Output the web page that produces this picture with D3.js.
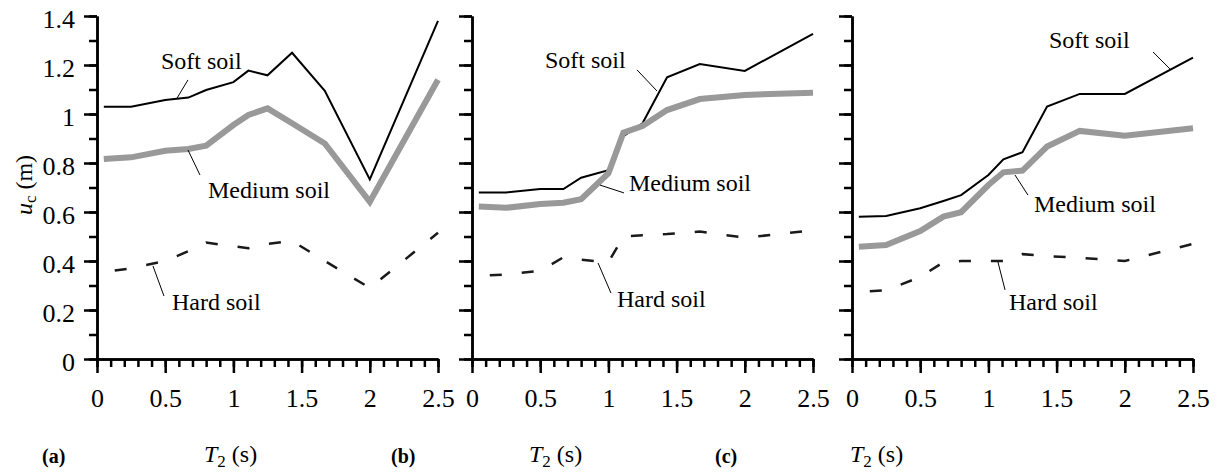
<!DOCTYPE html>
<html>
<head>
<meta charset="utf-8">
<script src="https://cdn.jsdelivr.net/npm/d3@7"></script>
<style>
  body { margin: 0; background: #fff; }
  svg { display: block; font-family: "Liberation Serif", "Times New Roman", serif; }
</style>
</head>
<body>
<div id="chart"></div>
<script>
var width = 1221, height = 473;

// natural periods T2 (s)
var periods = [0.05, 0.25, 0.5, 0.67, 0.8, 1.0, 1.11, 1.25, 1.43, 1.67, 2.0, 2.5];

// panel (a)
var softA = [1.03, 1.03, 1.057, 1.067, 1.098, 1.13, 1.177, 1.158, 1.25, 1.095, 0.733, 1.38];
var mediumA = [0.816, 0.823, 0.85, 0.857, 0.871, 0.955, 0.996, 1.023, 0.962, 0.88, 0.642, 1.14];
var hardA = [0.355, 0.37, 0.40, 0.44, 0.475, 0.46, 0.452, 0.47, 0.482, 0.40, 0.29, 0.515];

// panel (b)
var softB = [0.68, 0.68, 0.694, 0.694, 0.74, 0.771, 0.91, 0.962, 1.15, 1.204, 1.176, 1.327];
var mediumB = [0.622, 0.617, 0.633, 0.638, 0.652, 0.758, 0.924, 0.951, 1.016, 1.061, 1.078, 1.087];
var hardB = [0.34, 0.345, 0.36, 0.415, 0.405, 0.395, 0.50, 0.505, 0.51, 0.52, 0.495, 0.525];

// panel (c)
var softC = [0.581, 0.584, 0.615, 0.645, 0.669, 0.751, 0.815, 0.844, 1.03, 1.082, 1.082, 1.23];
var mediumC = [0.458, 0.465, 0.522, 0.581, 0.599, 0.71, 0.762, 0.769, 0.867, 0.931, 0.911, 0.942];
var hardC = [0.275, 0.28, 0.335, 0.395, 0.40, 0.40, 0.40, 0.428, 0.42, 0.413, 0.40, 0.47];

var xTicks = [0, 0.5, 1, 1.5, 2, 2.5];
var xTickLabels = ['0', '0.5', '1', '1.5', '2', '2.5'];
var yTicks = [0, 0.2, 0.4, 0.6, 0.8, 1, 1.2, 1.4];
var yTickLabels = ['0', '0.2', '0.4', '0.6', '0.8', '1', '1.2', '1.4'];
var panelNames = ['(a)', '(b)', '(c)'];
var soilNames = ['Soft soil', 'Medium soil', 'Hard soil'];

// label anchors in data units: [textT, textU, leaderT1, leaderU1, leaderT2, leaderU2]
var labelsA = [[0.469, 1.184, 0.667, 1.139, 0.587, 1.065],
               [0.814, 0.657, 0.755, 0.751, 0.667, 0.853],
               [0.55, 0.2, 0.491, 0.257, 0.41, 0.38]];
var labelsB = [[0.535, 1.188, 1.21, 1.18, 1.356, 1.094],
               [1.151, 0.686, 1.114, 0.678, 0.938, 0.71],
               [1.063, 0.212, 1.019, 0.269, 0.924, 0.392]];
var labelsC = [[1.444, 1.269, 2.207, 1.253, 2.331, 1.184],
               [1.334, 0.6, 1.29, 0.669, 1.195, 0.751],
               [1.151, 0.2, 1.122, 0.282, 1.07, 0.396]];

var panels = [
  { left: 97, soft: softA, medium: mediumA, hard: hardA, labels: labelsA, tag: 42, tx: 204 },
  { left: 472, soft: softB, medium: mediumB, hard: hardB, labels: labelsB, tag: 391, tx: 529 },
  { left: 852, soft: softC, medium: mediumC, hard: hardC, labels: labelsC, tag: 715, tx: 850 }
];

var plotW = 341, plotTop = 16, plotBottom = 359;

var svg = d3.select('#chart').append('svg')
    .attr('width', width)
    .attr('height', height);

var y = d3.scaleLinear().domain([0, 1.4]).range([plotBottom, plotTop]);

panels.forEach(function (p, i) {
    var x = d3.scaleLinear().domain([0, 2.5]).range([p.left, p.left + plotW]);
    var g = svg.append('g');

    var line = d3.line()
        .x(function (d, j) { return x(periods[j]); })
        .y(function (d) { return y(d); });

    // x axis: minor then major ticks
    var xMinor = g.append('g')
        .attr('transform', 'translate(0,' + plotBottom + ')')
        .call(d3.axisBottom(x).tickValues(d3.range(0, 26).map(function (k) { return k / 10; }))
            .tickSize(8).tickSizeOuter(0).tickFormat(''));
    var xMajor = g.append('g')
        .attr('transform', 'translate(0,' + plotBottom + ')')
        .call(d3.axisBottom(x).tickValues(xTicks).tickSize(14).tickSizeOuter(0).tickPadding(16)
            .tickFormat(function (d, k) { return xTickLabels[k]; }));

    // y axis
    var yMinor = g.append('g')
        .attr('transform', 'translate(' + p.left + ',0)')
        .call(d3.axisLeft(y).tickValues(d3.range(0, 15).map(function (k) { return k / 10; }))
            .tickSize(8).tickSizeOuter(0).tickFormat(''));
    var yMajor = g.append('g')
        .attr('transform', 'translate(' + p.left + ',0)')
        .call(d3.axisLeft(y).tickValues(yTicks).tickSize(13).tickSizeOuter(0).tickPadding(9)
            .tickFormat(function (d, k) { return i === 0 ? yTickLabels[k] : ''; }));

    [xMinor, xMajor, yMinor, yMajor].forEach(function (a) {
        a.selectAll('path, line').attr('stroke', '#000').attr('stroke-width', 2.5);
        a.selectAll('text').attr('fill', '#000').style('font-size', '26px')
            .style('font-family', '"Liberation Serif", serif');
    });
    yMajor.selectAll('text').attr('dy', '0.45em');

    // curves
    g.append('path').datum(p.soft)
        .attr('d', line).attr('fill', 'none')
        .attr('stroke', '#000').attr('stroke-width', 2);
    g.append('path').datum(p.medium)
        .attr('d', line).attr('fill', 'none')
        .attr('stroke', '#999').attr('stroke-width', 6);
    g.append('path').datum(p.hard)
        .attr('d', line).attr('fill', 'none')
        .attr('stroke', '#1a1a1a').attr('stroke-width', 2.5)
        .attr('stroke-dasharray', '12,20').attr('stroke-dashoffset', 21);

    // soil labels with leader lines
    p.labels.forEach(function (l, k) {
        g.append('line')
            .attr('x1', x(l[2])).attr('y1', y(l[3]))
            .attr('x2', x(l[4])).attr('y2', y(l[5]))
            .attr('stroke', '#000').attr('stroke-width', 1);
        g.append('text')
            .attr('x', x(l[0])).attr('y', y(l[1]))
            .style('font-size', '24px')
            .text(soilNames[k]);
    });

    // panel tag and x title
    svg.append('text')
        .attr('x', p.tag).attr('y', 463)
        .style('font-size', '20px').style('font-weight', 'bold')
        .text(panelNames[i]);
    var t = svg.append('text')
        .attr('x', p.tx).attr('y', 462)
        .style('font-size', '24px');
    t.append('tspan').style('font-style', 'italic').text('T');
    t.append('tspan').attr('dy', 5).style('font-size', '17px').text('2');
    t.append('tspan').attr('dy', -5).text(' (s)');
});

// y title
var yt = svg.append('text')
    .attr('transform', 'translate(32,185) rotate(-90)')
    .attr('text-anchor', 'middle')
    .style('font-size', '24px');
yt.append('tspan').style('font-style', 'italic').text('u');
yt.append('tspan').attr('dy', 4).style('font-size', '17px').text('c');
yt.append('tspan').attr('dy', -4).text(' (m)');
</script>
</body>
</html>
